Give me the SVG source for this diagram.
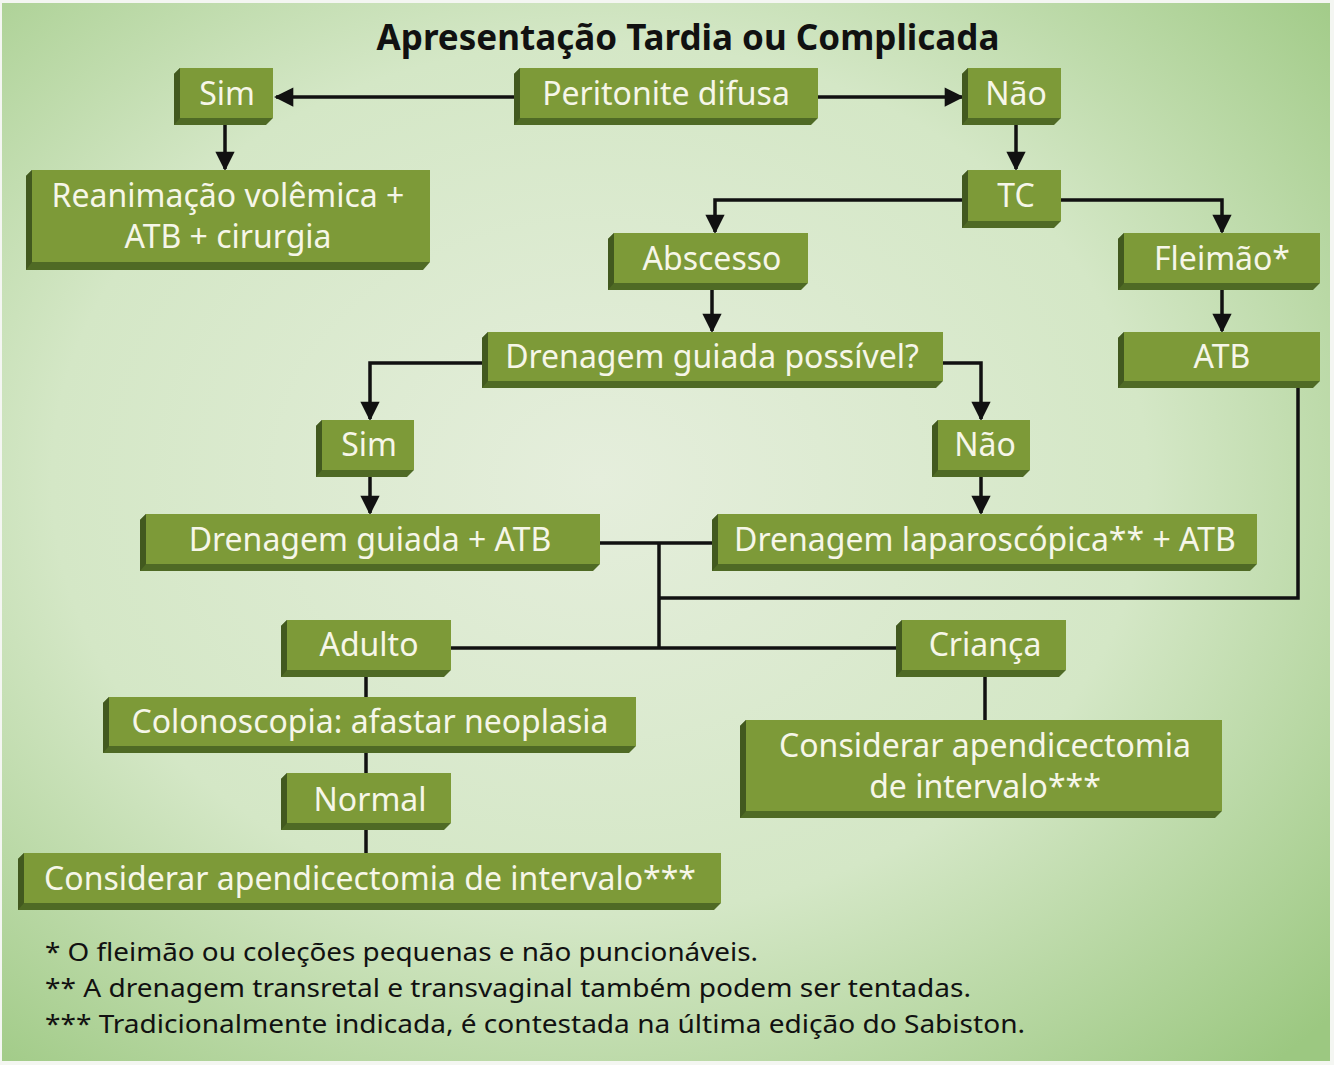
<svg xmlns="http://www.w3.org/2000/svg" width="1334" height="1065" viewBox="0 0 1334 1065">
<defs>
<radialGradient id="bg" cx="0.45" cy="0.45" r="0.75">
<stop offset="0" stop-color="#e5eedc"/>
<stop offset="0.55" stop-color="#d4e7c6"/>
<stop offset="1" stop-color="#9cc881"/>
</radialGradient>
<marker id="ah" viewBox="0 0 10 10" refX="9" refY="5" markerWidth="6" markerHeight="5.5" markerUnits="strokeWidth" orient="auto">
<path d="M0,0 L10,5 L0,10 Z" fill="#111"/>
</marker>
<style>
.face{fill:#7d9a38}
.side{fill:#4f6a25}
.lside{fill:#42591f}
.t{font-family:"Noto Sans","Open Sans",sans-serif;font-size:32px;fill:#f6f6e8;text-anchor:middle}
.c{fill:none;stroke:#111;stroke-width:3.5}
.ca{fill:none;stroke:#111;stroke-width:3.5;marker-end:url(#ah)}
.fn{font-family:"Noto Sans","Open Sans",sans-serif;font-size:25px;fill:#111}
</style>
</defs>
<rect x="0" y="0" width="1334" height="1065" fill="#f4f6f2"/>
<rect x="2" y="3" width="1328" height="1058" fill="url(#bg)"/>
<text x="688" y="50" font-family="Noto Sans, Open Sans, sans-serif" font-weight="bold" font-size="35" fill="#111" text-anchor="middle">Apresentação Tardia ou Complicada</text>

<g id="connectors">
<path class="ca" d="M514,97 H276"/>
<path class="ca" d="M818,97 H962"/>
<path class="ca" d="M225,125 V169"/>
<path class="ca" d="M1016,125 V169"/>
<path class="ca" d="M962,200 H715 V232"/>
<path class="ca" d="M1061,200 H1222 V232"/>
<path class="ca" d="M712,290 V331"/>
<path class="ca" d="M1222,290 V331"/>
<path class="ca" d="M482,363 H370 V419"/>
<path class="ca" d="M943,363 H981 V419"/>
<path class="ca" d="M370,477 V513"/>
<path class="ca" d="M981,477 V513"/>
<path class="c" d="M600,543 H712"/>
<path class="c" d="M659,543 V648"/>
<path class="c" d="M1298,388 V598 H659"/>
<path class="c" d="M451,648 H896"/>
<path class="c" d="M366,677 V697"/>
<path class="c" d="M366,753 V773"/>
<path class="c" d="M366,830 V853"/>
<path class="c" d="M985,677 V720"/>
</g>

<g id="n-sim1">
<polygon class="side" points="180,68 273,68 273,118 266,125 174,125 174,74"/>
<polygon class="lside" points="180,68 174,74 174,125 180,118"/>
<rect class="face" x="180" y="68" width="93" height="50"/>
<text class="t" x="227" y="105">Sim</text>
</g>
<g id="n-peritonite">
<polygon class="side" points="520,68 818,68 818,118 811,125 514,125 514,74"/>
<polygon class="lside" points="520,68 514,74 514,125 520,118"/>
<rect class="face" x="520" y="68" width="298" height="50"/>
<text class="t" x="666" y="105">Peritonite difusa</text>
</g>
<g id="n-nao1">
<polygon class="side" points="968,68 1061,68 1061,118 1054,125 962,125 962,74"/>
<polygon class="lside" points="968,68 962,74 962,125 968,118"/>
<rect class="face" x="968" y="68" width="93" height="50"/>
<text class="t" x="1016" y="105">Não</text>
</g>
<g id="n-reanimacao">
<polygon class="side" points="32,170 430,170 430,262 423,270 26,270 26,176"/>
<polygon class="lside" points="32,170 26,176 26,270 32,262"/>
<rect class="face" x="32" y="170" width="398" height="92"/>
<text class="t" x="228" y="207">Reanimação volêmica +</text>
<text class="t" x="228" y="248">ATB + cirurgia</text>
</g>
<g id="n-tc">
<polygon class="side" points="968,170 1061,170 1061,221 1054,228 962,228 962,176"/>
<polygon class="lside" points="968,170 962,176 962,228 968,221"/>
<rect class="face" x="968" y="170" width="93" height="51"/>
<text class="t" x="1016" y="207">TC</text>
</g>
<g id="n-abscesso">
<polygon class="side" points="614,233 808,233 808,283 801,290 608,290 608,239"/>
<polygon class="lside" points="614,233 608,239 608,290 614,283"/>
<rect class="face" x="614" y="233" width="194" height="50"/>
<text class="t" x="712" y="270">Abscesso</text>
</g>
<g id="n-fleimao">
<polygon class="side" points="1124,233 1320,233 1320,283 1313,290 1118,290 1118,239"/>
<polygon class="lside" points="1124,233 1118,239 1118,290 1124,283"/>
<rect class="face" x="1124" y="233" width="196" height="50"/>
<text class="t" x="1222" y="270">Fleimão*</text>
</g>
<g id="n-drenagem-possivel">
<polygon class="side" points="488,332 943,332 943,381 936,388 482,388 482,338"/>
<polygon class="lside" points="488,332 482,338 482,388 488,381"/>
<rect class="face" x="488" y="332" width="455" height="49"/>
<text class="t" x="712" y="368">Drenagem guiada possível?</text>
</g>
<g id="n-atb">
<polygon class="side" points="1124,332 1320,332 1320,381 1313,388 1118,388 1118,338"/>
<polygon class="lside" points="1124,332 1118,338 1118,388 1124,381"/>
<rect class="face" x="1124" y="332" width="196" height="49"/>
<text class="t" x="1222" y="368">ATB</text>
</g>
<g id="n-sim2">
<polygon class="side" points="322,420 414,420 414,470 407,477 316,477 316,426"/>
<polygon class="lside" points="322,420 316,426 316,477 322,470"/>
<rect class="face" x="322" y="420" width="92" height="50"/>
<text class="t" x="369" y="456">Sim</text>
</g>
<g id="n-nao2">
<polygon class="side" points="938,420 1030,420 1030,470 1023,477 932,477 932,426"/>
<polygon class="lside" points="938,420 932,426 932,477 938,470"/>
<rect class="face" x="938" y="420" width="92" height="50"/>
<text class="t" x="985" y="456">Não</text>
</g>
<g id="n-drenagem-guiada">
<polygon class="side" points="146,514 600,514 600,564 593,571 140,571 140,520"/>
<polygon class="lside" points="146,514 140,520 140,571 146,564"/>
<rect class="face" x="146" y="514" width="454" height="50"/>
<text class="t" x="370" y="551">Drenagem guiada + ATB</text>
</g>
<g id="n-drenagem-lap">
<polygon class="side" points="718,514 1257,514 1257,564 1250,571 712,571 712,520"/>
<polygon class="lside" points="718,514 712,520 712,571 718,564"/>
<rect class="face" x="718" y="514" width="539" height="50"/>
<text class="t" x="985" y="551">Drenagem laparoscópica** + ATB</text>
</g>
<g id="n-adulto">
<polygon class="side" points="287,620 451,620 451,670 444,677 281,677 281,626"/>
<polygon class="lside" points="287,620 281,626 281,677 287,670"/>
<rect class="face" x="287" y="620" width="164" height="50"/>
<text class="t" x="369" y="656">Adulto</text>
</g>
<g id="n-crianca">
<polygon class="side" points="902,620 1066,620 1066,670 1059,677 896,677 896,626"/>
<polygon class="lside" points="902,620 896,626 896,677 902,670"/>
<rect class="face" x="902" y="620" width="164" height="50"/>
<text class="t" x="985" y="656">Criança</text>
</g>
<g id="n-colonoscopia">
<polygon class="side" points="109,697 636,697 636,746 629,753 103,753 103,703"/>
<polygon class="lside" points="109,697 103,703 103,753 109,746"/>
<rect class="face" x="109" y="697" width="527" height="49"/>
<text class="t" x="370" y="733">Colonoscopia: afastar neoplasia</text>
</g>
<g id="n-considerar-crianca">
<polygon class="side" points="746,720 1222,720 1222,811 1215,818 740,818 740,726"/>
<polygon class="lside" points="746,720 740,726 740,818 746,811"/>
<rect class="face" x="746" y="720" width="476" height="91"/>
<text class="t" x="985" y="757">Considerar apendicectomia</text>
<text class="t" x="985" y="798">de intervalo***</text>
</g>
<g id="n-normal">
<polygon class="side" points="287,773 451,773 451,823 444,830 281,830 281,779"/>
<polygon class="lside" points="287,773 281,779 281,830 287,823"/>
<rect class="face" x="287" y="773" width="164" height="50"/>
<text class="t" x="370" y="811">Normal</text>
</g>
<g id="n-considerar-adulto">
<polygon class="side" points="24,853 721,853 721,903 714,910 18,910 18,859"/>
<polygon class="lside" points="24,853 18,859 18,910 24,903"/>
<rect class="face" x="24" y="853" width="697" height="50"/>
<text class="t" x="370" y="890">Considerar apendicectomia de intervalo***</text>
</g>

<g id="footnotes">
<text class="fn" x="45" y="961" textLength="713" lengthAdjust="spacingAndGlyphs">* O fleimão ou coleções pequenas e não puncionáveis.</text>
<text class="fn" x="45" y="997" textLength="926" lengthAdjust="spacingAndGlyphs">** A drenagem transretal e transvaginal também podem ser tentadas.</text>
<text class="fn" x="45" y="1033" textLength="980" lengthAdjust="spacingAndGlyphs">*** Tradicionalmente indicada, é contestada na última edição do Sabiston.</text>
</g>
</svg>
